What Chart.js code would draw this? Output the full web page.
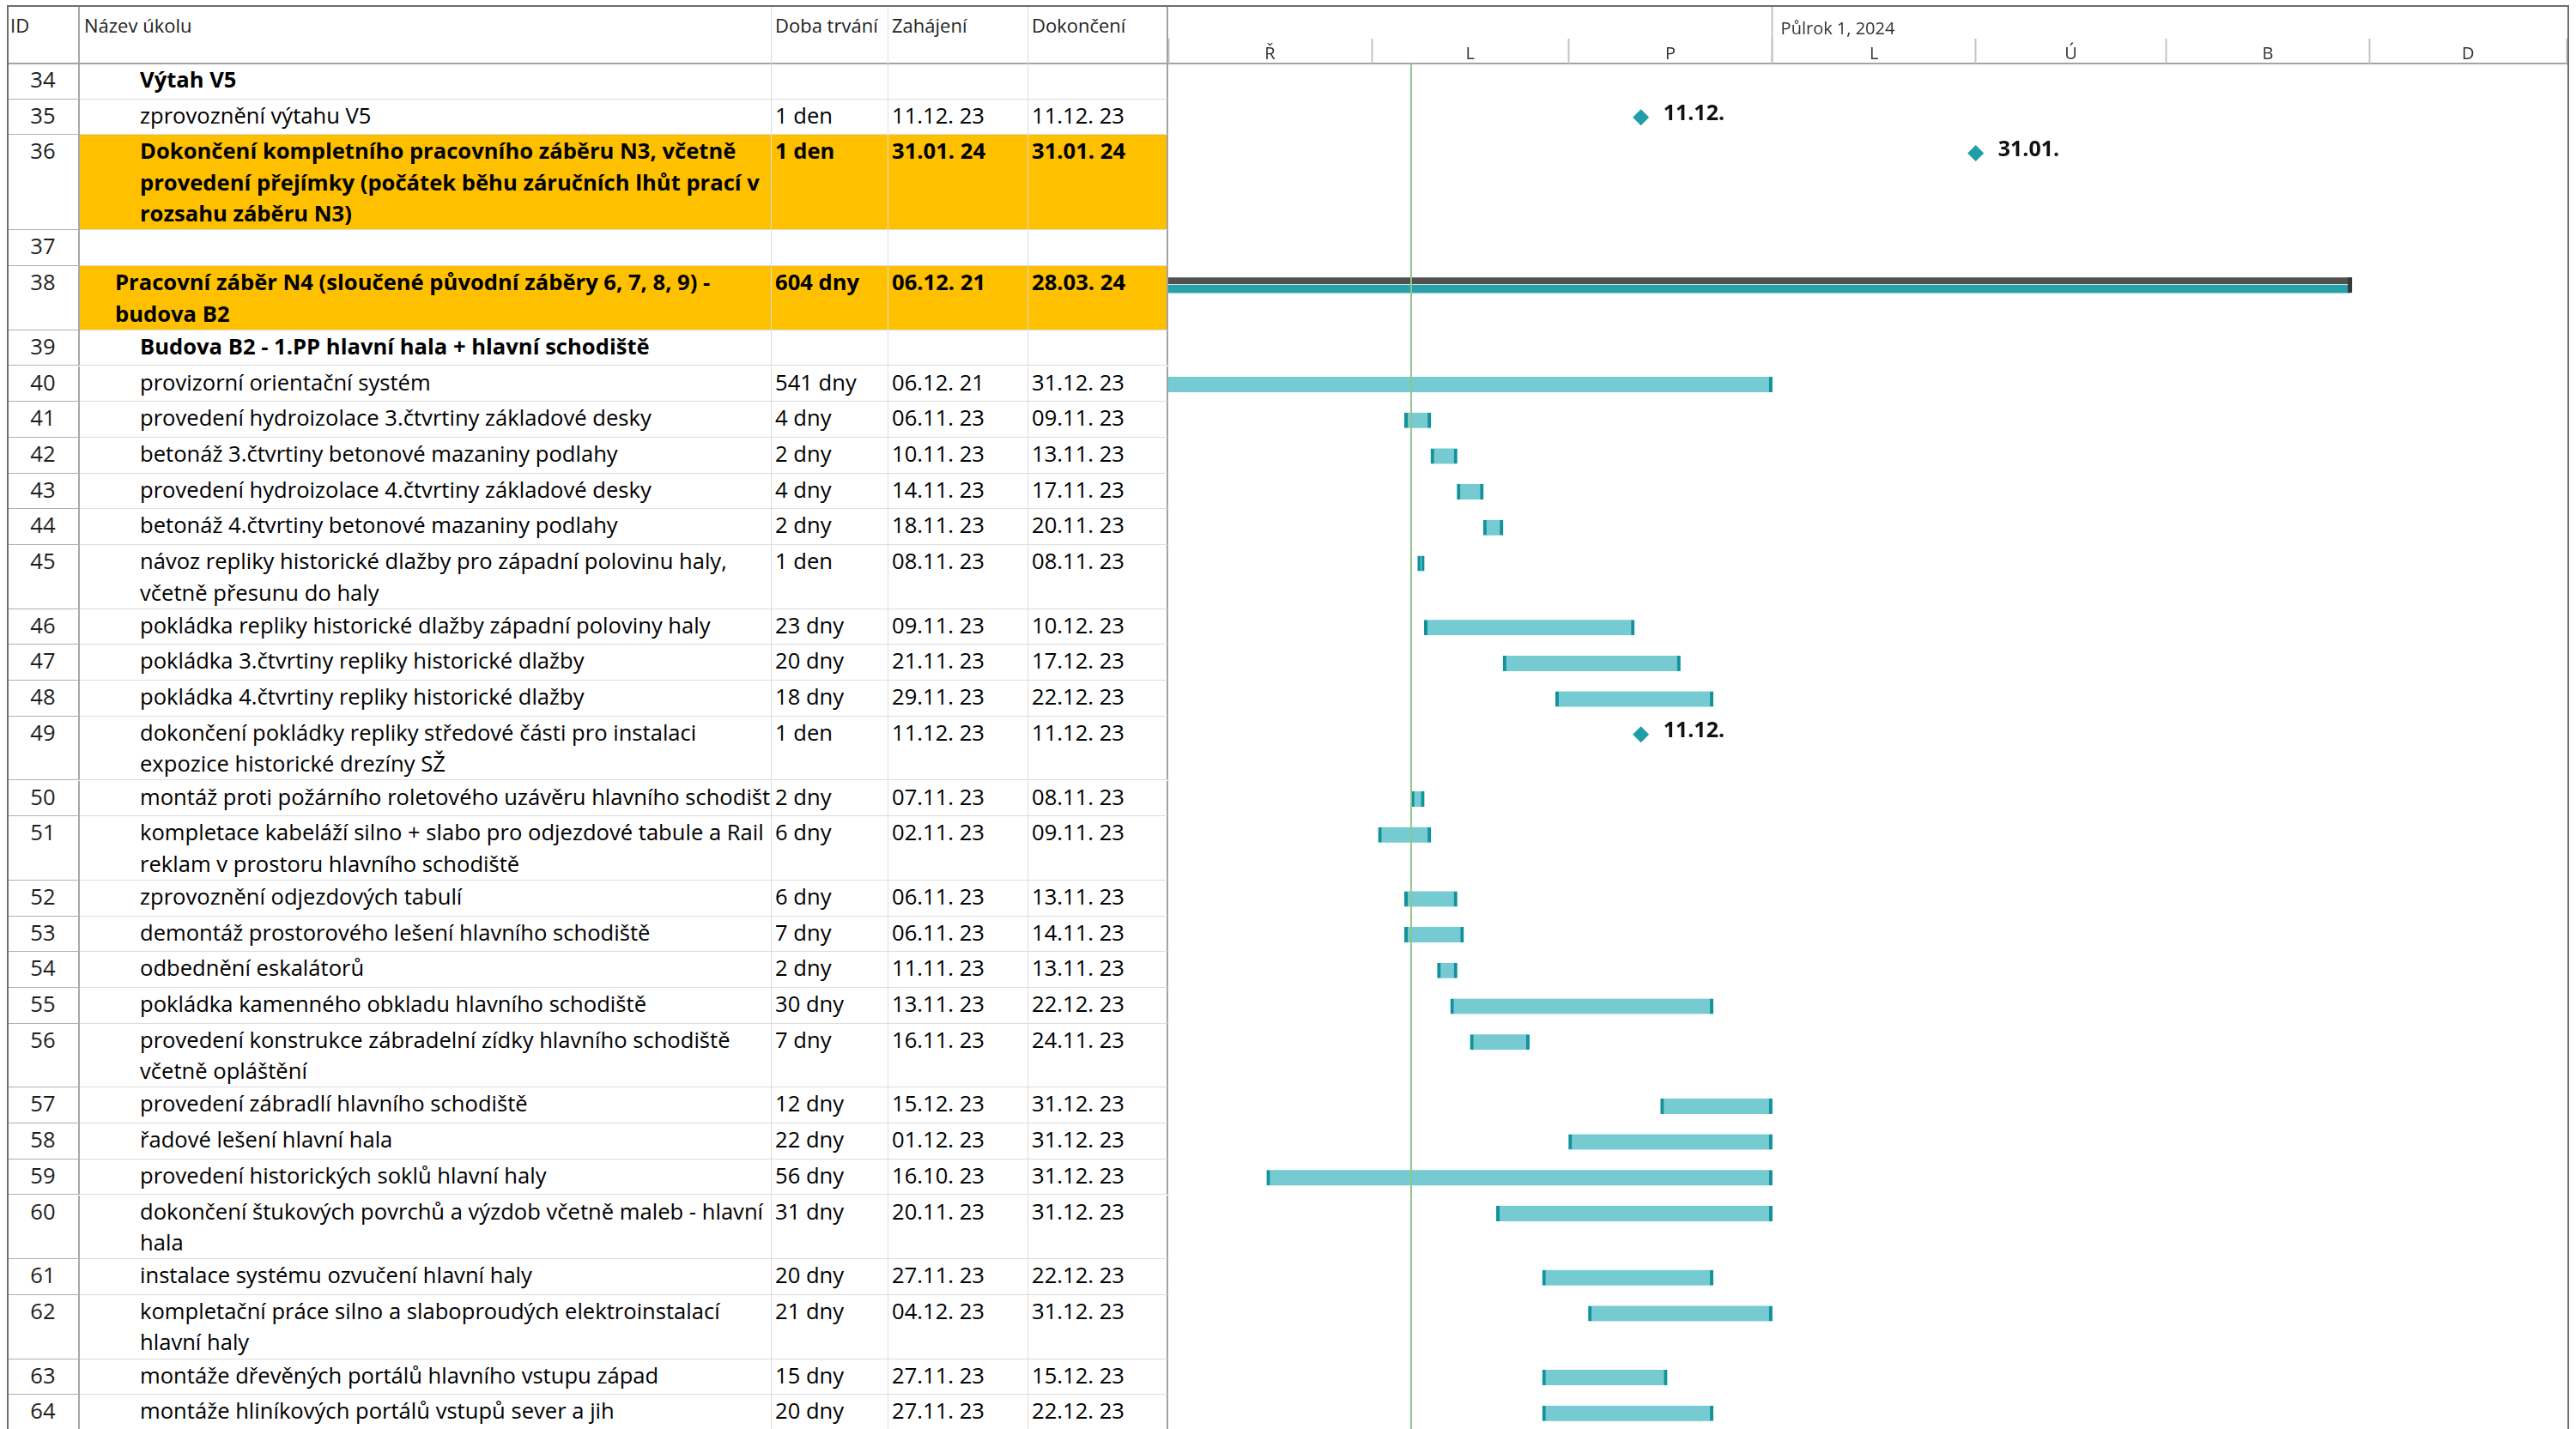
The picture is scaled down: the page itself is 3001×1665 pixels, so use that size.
<!DOCTYPE html>
<html lang="cs">
<head>
<meta charset="utf-8">
<title>Pracovní záběr N4 – harmonogram</title>
<script src="https://cdn.jsdelivr.net/npm/chart.js@4.4.1/dist/chart.umd.min.js"></script>
<style>
  html, body { margin: 0; padding: 0; background: #fff; }
  body { position: relative; width: 3001px; height: 1665px; overflow: hidden;
         font-family: "Open Sans", "Noto Sans", sans-serif; font-size: 25.6px; color: #000; }
  #frame { position: absolute; left: 8px; top: 6px; width: 2985px; height: 1700px;
           border: 2px solid #6e6e6e; box-sizing: border-box; pointer-events: none; z-index: 5; }
  #hdrline { position: absolute; left: 1361px; top: 73px; width: 1631px; height: 2px; background: #a3a3a3; }
  #gantt { position: absolute; left: 1361px; top: 0; }
  .row { position: absolute; left: 9px; width: 1352px; }
  .cell { position: absolute; top: 0; bottom: 0; box-sizing: border-box; overflow: hidden;
          white-space: pre; line-height: 36.5px; padding: 1px 0 0 4px;
          border-right: 1px solid #dcdcdc; border-bottom: 1px solid #dcdcdc; }
  .c0 { left: 0; width: 84px; padding-left: 0; text-align: center; color: #1e1e1e;
        border-right: 2px solid #a8a8a8; border-bottom-color: #b0b0b0; }
  .c1 { left: 84px; width: 806px; padding-left: 70px; }
  .c1.lvl1 { padding-left: 41px; }
  .c2 { left: 890px; width: 136px; }
  .c3 { left: 1026px; width: 163px; }
  .c4 { left: 1189px; width: 163px; border-right: 2px solid #a3a3a3; }
  .hdr .cell { padding-top: 4px; font-size: 22px; color: #222; border-bottom: 2px solid #a3a3a3; }
  .hdr .c0 { text-align: left; padding-left: 3px; }
  .hdr .c1 { padding-left: 5px; }
  .bold .cell { font-weight: 700; }
  .bold .c0 { font-weight: 400; }
  .hl .c1, .hl .c2, .hl .c3, .hl .c4 { background: #ffc000; }
</style>
</head>
<body>
<div id="table"></div>
<div id="hdrline"></div>
<div id="gantt"><canvas id="chart" width="1632" height="1665"></canvas></div>
<div id="frame"></div>
<script>
// table columns
const headers = ['ID', 'Název úkolu', 'Doba trvání', 'Zahájení', 'Dokončení'];

const ids = [34, 35, 36, 37, 38, 39, 40, 41, 42, 43, 44, 45, 46, 47, 48, 49, 50, 51, 52, 53, 54, 55, 56, 57, 58, 59, 60, 61, 62, 63, 64];
const names = [
  'Výtah V5',
  'zprovoznění výtahu V5',
  'Dokončení kompletního pracovního záběru N3, včetně\nprovedení přejímky (počátek běhu záručních lhůt prací v\nrozsahu záběru N3)',
  '',
  'Pracovní záběr N4 (sloučené původní záběry 6, 7, 8, 9) -\nbudova B2',
  'Budova B2 - 1.PP hlavní hala + hlavní schodiště',
  'provizorní orientační systém',
  'provedení hydroizolace 3.čtvrtiny základové desky',
  'betonáž 3.čtvrtiny betonové mazaniny podlahy',
  'provedení hydroizolace 4.čtvrtiny základové desky',
  'betonáž 4.čtvrtiny betonové mazaniny podlahy',
  'návoz repliky historické dlažby pro západní polovinu haly,\nvčetně přesunu do haly',
  'pokládka repliky historické dlažby západní poloviny haly',
  'pokládka 3.čtvrtiny repliky historické dlažby',
  'pokládka 4.čtvrtiny repliky historické dlažby',
  'dokončení pokládky repliky středové části pro instalaci\nexpozice historické drezíny SŽ',
  'montáž proti požárního roletového uzávěru hlavního schodiště',
  'kompletace kabeláží silno + slabo pro odjezdové tabule a Rail\nreklam v prostoru hlavního schodiště',
  'zprovoznění odjezdových tabulí',
  'demontáž prostorového lešení hlavního schodiště',
  'odbednění eskalátorů',
  'pokládka kamenného obkladu hlavního schodiště',
  'provedení konstrukce zábradelní zídky hlavního schodiště\nvčetně opláštění',
  'provedení zábradlí hlavního schodiště',
  'řadové lešení hlavní hala',
  'provedení historických soklů hlavní haly',
  'dokončení štukových povrchů a výzdob včetně maleb - hlavní\nhala',
  'instalace systému ozvučení hlavní haly',
  'kompletační práce silno a slaboproudých elektroinstalací\nhlavní haly',
  'montáže dřevěných portálů hlavního vstupu západ',
  'montáže hliníkových portálů vstupů sever a jih'
];
const durations = ['', '1 den', '1 den', '', '604 dny', '', '541 dny', '4 dny', '2 dny', '4 dny', '2 dny',
  '1 den', '23 dny', '20 dny', '18 dny', '1 den', '2 dny', '6 dny', '6 dny', '7 dny', '2 dny',
  '30 dny', '7 dny', '12 dny', '22 dny', '56 dny', '31 dny', '20 dny', '21 dny', '15 dny', '20 dny'];
const starts = ['', '11.12. 23', '31.01. 24', '', '06.12. 21', '', '06.12. 21', '06.11. 23', '10.11. 23', '14.11. 23', '18.11. 23',
  '08.11. 23', '09.11. 23', '21.11. 23', '29.11. 23', '11.12. 23', '07.11. 23', '02.11. 23', '06.11. 23', '06.11. 23', '11.11. 23',
  '13.11. 23', '16.11. 23', '15.12. 23', '01.12. 23', '16.10. 23', '20.11. 23', '27.11. 23', '04.12. 23', '27.11. 23', '27.11. 23'];
const finishes = ['', '11.12. 23', '31.01. 24', '', '28.03. 24', '', '31.12. 23', '09.11. 23', '13.11. 23', '17.11. 23', '20.11. 23',
  '08.11. 23', '10.12. 23', '17.12. 23', '22.12. 23', '11.12. 23', '08.11. 23', '09.11. 23', '13.11. 23', '14.11. 23', '13.11. 23',
  '22.12. 23', '24.11. 23', '31.12. 23', '31.12. 23', '31.12. 23', '31.12. 23', '22.12. 23', '31.12. 23', '15.12. 23', '22.12. 23'];
const kinds = ['group', 'milestone', 'milestone', 'blank', 'summary', 'group',
  'task', 'task', 'task', 'task', 'task', 'task', 'task', 'task', 'task', 'milestone',
  'task', 'task', 'task', 'task', 'task', 'task', 'task', 'task', 'task', 'task', 'task', 'task', 'task', 'task', 'task'];
const boldRows = [34, 36, 38, 39];
const highlightRows = [36, 38];
const level1Rows = [38];

// timescale
const monthStarts = ['01.10. 23', '01.11. 23', '01.12. 23', '01.01. 24', '01.02. 24', '01.03. 24', '01.04. 24', '01.05. 24'];
const monthLabels = ['Ř', 'L', 'P', 'L', 'Ú', 'B', 'D'];
const halfYearStarts = ['01.01. 24'];
const halfYearLabels = ['Půlrok 1, 2024'];
const statusDate = '07.11. 23';

// layout
const HEADER_TOP = 7, HEADER_BOTTOM = 74, PAGE_H = 1665;
const ROW_H = { 1: 41.7, 2: 74.7, 3: 111 };
const FIRST_LINE = 21.5;   // bar centre below row top

function utc(s) {
  const p = s.replace(/\s/g, '').split('.').map(Number);
  return Date.UTC(2000 + p[2], p[1] - 1, p[0]);
}
const origin = utc(monthStarts[0]);
const dayOf = s => (utc(s) - origin) / 86400000;

// build table
const table = document.getElementById('table');
function addRow(top, height, cls, texts, nameCls) {
  const row = document.createElement('div');
  row.className = 'row ' + cls;
  row.style.top = top + 'px';
  row.style.height = height + 'px';
  texts.forEach((t, c) => {
    const cell = document.createElement('div');
    cell.className = 'cell c' + c + (c === 1 && nameCls ? ' ' + nameCls : '');
    cell.textContent = t;
    row.appendChild(cell);
  });
  table.appendChild(row);
}
addRow(HEADER_TOP, HEADER_BOTTOM - HEADER_TOP + 1, 'hdr', headers);

const rowTop = [];
let acc = 0;
names.forEach((n, i) => {
  const h = ROW_H[n.split('\n').length];
  rowTop.push(acc);
  let cls = '';
  if (boldRows.includes(ids[i])) cls += ' bold';
  if (highlightRows.includes(ids[i])) cls += ' hl';
  addRow(HEADER_BOTTOM + acc, h, cls, [String(ids[i]), n, durations[i], starts[i], finishes[i]],
    level1Rows.includes(ids[i]) ? 'lvl1' : '');
  acc += h;
});
const rowY = rowTop.map(t => t + FIRST_LINE);

// gantt data
const taskBars = [], sumGray = [], sumTeal = [], sumEnds = [], milestones = [], milestoneText = [];
kinds.forEach((k, i) => {
  if (k === 'task') {
    taskBars.push({ x: [dayOf(starts[i]), dayOf(finishes[i]) + 1], y: rowY[i] });
  } else if (k === 'summary') {
    sumGray.push({ x: [dayOf(starts[i]), dayOf(finishes[i]) + 1], y: rowY[i] - 4.5 });
    sumTeal.push({ x: [dayOf(starts[i]), dayOf(finishes[i]) + 1], y: rowY[i] + 5 });
    sumEnds.push({ x: dayOf(finishes[i]) + 1, y: rowY[i] + 0.5 });
  } else if (k === 'milestone') {
    milestones.push({ x: dayOf(finishes[i]) + 1, y: rowY[i] - 0.5 });
    milestoneText.push(finishes[i].split(' ')[0]);
  }
});
const xMax = dayOf(monthStarts[monthStarts.length - 1]);
const monthMid = monthLabels.map((m, i) => (dayOf(monthStarts[i]) + dayOf(monthStarts[i + 1])) / 2);
const today = dayOf(statusDate);

const milestoneLabels = {
  id: 'milestoneLabels',
  afterDatasetsDraw(chart) {
    const ctx = chart.ctx;
    const idx = chart.data.datasets.findIndex(d => d.label === 'Milníky');
    ctx.save();
    ctx.font = 'bold 25px "Open Sans"';
    ctx.fillStyle = '#111';
    ctx.textBaseline = 'middle';
    chart.getDatasetMeta(idx).data.forEach((pt, i) => {
      ctx.fillText(milestoneText[i], pt.x + 26, pt.y - 4);
    });
    ctx.restore();
  }
};

Chart.defaults.font.family = '"Open Sans", sans-serif';

const tickAxis = (values, len) => ({
  type: 'linear', position: 'top', weight: 0, min: 0, max: xMax, offset: false,
  afterBuildTicks: ax => { ax.ticks = values.map(v => ({ value: v })); },
  afterFit: ax => { ax.height = 0; },
  grid: { offset: false, drawOnChartArea: false, drawTicks: true, tickLength: len, tickColor: '#c4c4c4', tickWidth: 2 },
  border: { display: false },
  ticks: { display: false }
});

new Chart(document.getElementById('chart'), {
  type: 'bar',
  data: {
    datasets: [
      {
        type: 'line', label: 'Dnes', order: 0,
        data: [{ x: today, y: 0 }, { x: today, y: PAGE_H - HEADER_BOTTOM }],
        borderColor: '#8fc78b', borderWidth: 2, pointRadius: 0
      },
      {
        type: 'scatter', label: 'Milníky', order: 1, data: milestones,
        pointStyle: 'rectRot', pointRadius: 9.5, pointBackgroundColor: '#1f9ea7', pointBorderWidth: 0
      },
      {
        type: 'scatter', label: 'Konec souhrnu', order: 1, data: sumEnds,
        pointStyle: 'line', pointRotation: 90, pointRadius: 9, pointBorderColor: '#3a3a3a', pointBorderWidth: 5
      },
      {
        label: 'Úkoly', order: 2, data: taskBars, grouped: false, barThickness: 18,
        backgroundColor: '#75cbd1', borderColor: '#12929b',
        borderWidth: { left: 4, right: 4, top: 0, bottom: 0 }, borderSkipped: false
      },
      {
        label: 'Souhrn', order: 2, data: sumGray, grouped: false, barThickness: 7,
        backgroundColor: '#515151', borderWidth: 0
      },
      {
        label: 'Souhrn průběh', order: 2, data: sumTeal, grouped: false, barThickness: 9,
        backgroundColor: '#2aa1aa', borderWidth: 0
      }
    ]
  },
  options: {
    indexAxis: 'y',
    responsive: false,
    devicePixelRatio: 1,
    animation: false,
    events: [],
    layout: { autoPadding: false, padding: { top: HEADER_TOP, right: 3, left: 0, bottom: 0 } },
    plugins: { legend: { display: false }, tooltip: { enabled: false } },
    scales: {
      x: {
        type: 'linear', position: 'top', weight: 1, min: 0, max: xMax, offset: false,
        afterBuildTicks: ax => { ax.ticks = monthMid.map(v => ({ value: v })); },
        afterFit: ax => { ax.height = 29; },
        grid: { display: false, drawTicks: false, offset: false }, border: { display: false },
        ticks: { autoSkip: false, maxRotation: 0, padding: 0, color: '#333',
                 font: { size: 20, lineHeight: 1.1 }, callback: (v, i) => monthLabels[i] }
      },
      xt: {
        type: 'linear', position: 'top', weight: 2, min: 0, max: xMax, offset: false,
        afterBuildTicks: ax => { ax.ticks = halfYearStarts.map(s => ({ value: dayOf(s) })); },
        afterFit: ax => { ax.height = 38; },
        grid: { display: false, drawTicks: false, offset: false }, border: { display: false },
        ticks: { autoSkip: false, maxRotation: 0, padding: 0, align: 'start', labelOffset: 10, color: '#333',
                 font: { size: 20, lineHeight: 1.1 }, callback: (v, i) => halfYearLabels[i] }
      },
      xm: tickAxis(monthStarts.map(dayOf), 29),
      xh: tickAxis(halfYearStarts.map(dayOf), HEADER_BOTTOM - HEADER_TOP),
      y: {
        type: 'linear', display: false, reverse: true, offset: false,
        min: 0, max: PAGE_H - HEADER_BOTTOM, grid: { offset: false }
      }
    }
  },
  plugins: [milestoneLabels]
});
</script>
</body>
</html>
